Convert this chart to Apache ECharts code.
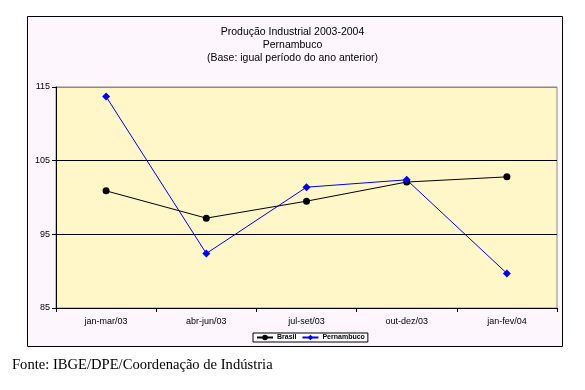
<!DOCTYPE html>
<html>
<head>
<meta charset="utf-8">
<script src="https://cdn.jsdelivr.net/npm/echarts@6/dist/echarts.min.js"></script>
<style>
html,body{margin:0;padding:0;background:#ffffff;}
#c{width:585px;height:390px;}
</style>
</head>
<body>
<div id="c"></div>
<script>
const categories = ['jan-mar/03', 'abr-jun/03', 'jul-set/03', 'out-dez/03', 'jan-fev/04'];
const brasil = [100.9, 97.2, 99.5, 102.1, 102.8];
const pernambuco = [113.7, 92.4, 101.4, 102.4, 89.7];
const yTicks = [85, 95, 105, 115];
const titleLines = ['Produção Industrial 2003-2004', 'Pernambuco', '(Base: igual período do ano anterior)'];
const sourceText = 'Fonte: IBGE/DPE/Coordenação de Indústria';

const chart = echarts.init(document.getElementById('c'), null, {renderer: 'canvas'});
const font = 'Liberation Sans, Arial, sans-serif';
chart.setOption({
  animation: false,
  backgroundColor: '#ffffff',
  graphic: [
    {type: 'rect', z: -10, shape: {x: 27.5, y: 16.5, width: 535, height: 330},
     style: {fill: '#FDF6FD', stroke: '#000000', lineWidth: 1}},
    {type: 'text', left: 'center', top: 26,
     style: {text: titleLines.join('\n'), font: '10.5px ' + font, fill: '#000', textAlign: 'center', lineHeight: 13}},
    {type: 'text', left: 12, top: 358,
     style: {text: sourceText, font: '14.6px "Liberation Serif", "Times New Roman", serif', fill: '#000'}}
  ],
  grid: {left: 56, right: 28, top: 87, bottom: 82, show: true, backgroundColor: '#FFF7C8', borderColor: '#8a8a8a', borderWidth: 1, containLabel: false},
  legend: {
    data: ['Brasil', 'Pernambuco'],
    left: 253, top: 333, itemWidth: 16, itemHeight: 7, itemGap: 5,
    padding: [1, 3, 1, 3], borderColor: '#000', borderWidth: 1, backgroundColor: '#ffffff',
    textStyle: {fontSize: 7, fontWeight: 'bold', fontFamily: font, color: '#000', padding: [0, 0, 0, -1]}
  },
  xAxis: {
    type: 'category', data: categories, boundaryGap: true,
    axisLine: {lineStyle: {color: '#000', width: 1}},
    axisTick: {show: true, length: 4, inside: false, lineStyle: {color: '#000'}},
    axisLabel: {fontSize: 9, fontFamily: font, color: '#000', margin: 9},
    splitLine: {show: false}
  },
  yAxis: {
    type: 'value', min: yTicks[0], max: yTicks[yTicks.length - 1], interval: 10,
    axisLine: {show: true, lineStyle: {color: '#000', width: 1}},
    axisTick: {show: true, length: 4, lineStyle: {color: '#000'}},
    axisLabel: {fontSize: 9, fontFamily: font, color: '#000', margin: 6},
    splitLine: {show: true, lineStyle: {color: ['#000000', '#000000', '#000000', '#8a8a8a'], width: 1}}
  },
  series: [
    {name: 'Brasil', type: 'line', data: brasil, symbol: 'circle', symbolSize: 7,
     itemStyle: {color: '#000000'}, lineStyle: {color: '#000000', width: 1}},
    {name: 'Pernambuco', type: 'line', data: pernambuco, symbol: 'diamond', symbolSize: 8,
     itemStyle: {color: '#0000FF'}, lineStyle: {color: '#0000FF', width: 1}}
  ]
});
</script>
</body>
</html>
